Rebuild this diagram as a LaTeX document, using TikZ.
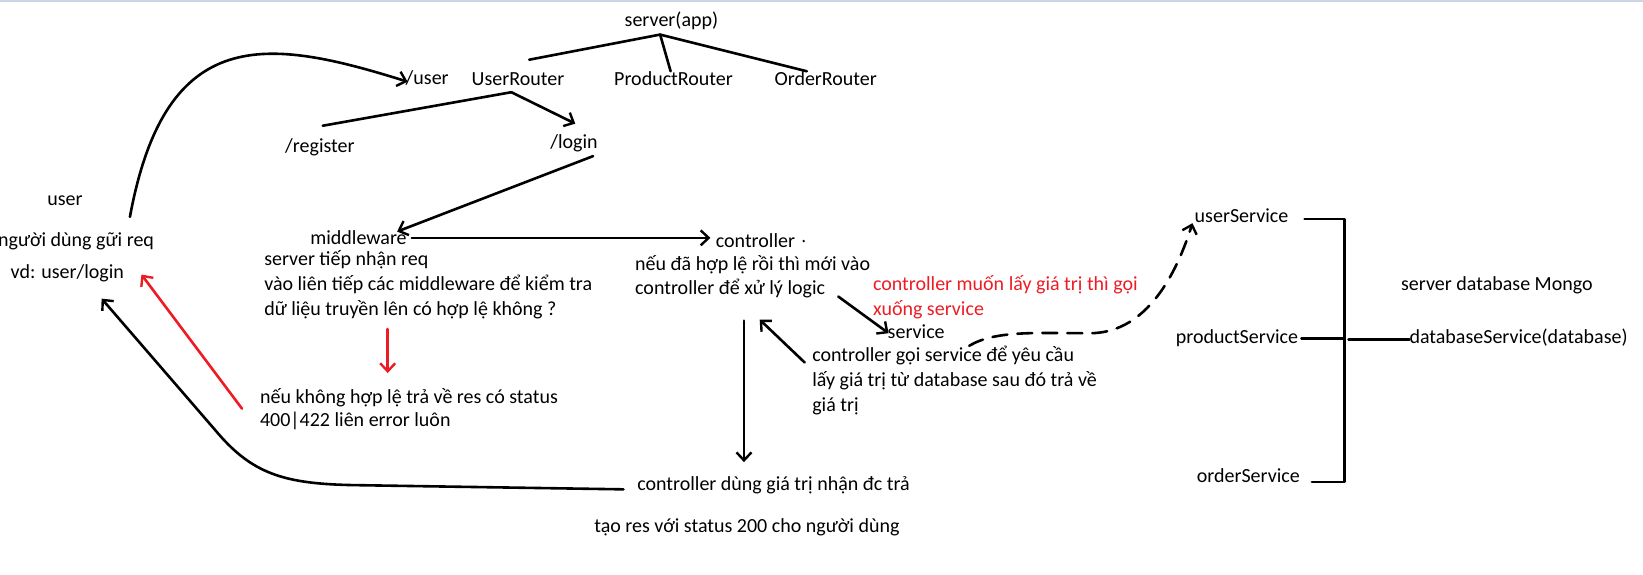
\documentclass[tikz,border=0pt]{standalone}
\usepackage{fontspec}
\setmainfont{Carlito}
\usetikzlibrary{arrows.meta}
\definecolor{pred}{RGB}{237,28,36}
\definecolor{topbar}{RGB}{204,214,229}
\begin{document}
\begin{tikzpicture}[x=1.04783pt,y=-1.04783pt,
  txt/.style={inner sep=0pt, anchor=base west, font=\fontsize{20}{24}\selectfont},
  rtxt/.style={txt, text=pred},
  ln/.style={line width=2.6pt, line cap=round, line join=round},
  barb/.style={-{Straight Barb[length=8pt,width=15pt,line width=2.4pt]}},
  arr/.style={ln, barb},
]
\useasboundingbox (0,0) rectangle (1568,547.8);
\fill[topbar] (0,0) rectangle (1568,2);

% ---- text nodes
\node[txt] (server) at (596,25) {server(app)};
\node[txt] (userR) at (450,82) {UserRouter};
\node[txt] (prodR) at (586,82) {ProductRouter};
\node[txt] (ordR) at (739,82) {OrderRouter};
\node[txt] (puser) at (387,81) {/user};
\node[txt] (reg) at (272,146) {/register};
\node[txt] (login) at (525,142) {/login};
\node[txt] (user) at (45,196) {user};
\node[txt] (sendreq) at (-2,235) {người dùng gữi req};
\node[txt] (vd) at (10,266) {vd: user/login};
\node[txt] (mw) at (296,233) {middleware};
\node[txt] (mw1) at (252,253) {server tiếp nhận req};
\node[txt] (mw2) at (252,277) {vào liên tiếp các middleware để kiểm tra};
\node[txt] (mw3) at (252,301) {dữ liệu truyền lên có hợp lệ không ?};
\node[txt] (err1) at (248,385) {nếu không hợp lệ trả về res có status};
\node[txt] (err2) at (248,407) {400|422 liên error luôn};
\node[txt] (ctrl) at (683,236) {controller};
\node[txt] (ctrl1) at (606,258) {nếu đã hợp lệ rồi thì mới vào};
\node[txt] (ctrl2) at (606,281) {controller để xử lý logic};
\node[rtxt] (red1) at (833,277) {controller muốn lấy giá trị thì gọi};
\node[rtxt] (red2) at (833,301) {xuống service};
\node[txt] (service) at (847,323) {service};
\node[txt] (cs1) at (775,345) {controller gọi service để yêu cầu};
\node[txt] (cs2) at (775,369) {lấy giá trị từ database sau đó trả về};
\node[txt] (cs3) at (775,393) {giá trị};
\node[txt] (ret1) at (608,468) {controller dùng giá trị nhận đc trả};
\node[txt] (ret2) at (567,508) {tạo res với status 200 cho người dùng};
\node[txt] (userS) at (1140,212) {userService};
\node[txt] (prodS) at (1122,328) {productService};
\node[txt] (ordS) at (1142,460) {orderService};
\node[txt] (mongo) at (1337,277) {server database Mongo};
\node[txt] (dbS) at (1345,328) {databaseService(database)};

% ---- coordinates
\coordinate (sapex) at (630,33);
\coordinate (sUR) at (505,57);
\coordinate (sPR) at (640,68);
\coordinate (sOR) at (770,68);
\coordinate (uapex) at (488,88);
\coordinate (uReg) at (308,120);
\coordinate (uLog) at (549,118);
\coordinate (reqStart) at (124,207);
\coordinate (reqEnd) at (389,78);
\coordinate (logStart) at (566,149);
\coordinate (mwTip) at (379,221);
\coordinate (mwR) at (393,227);
\coordinate (ctrlL) at (678,227);
\coordinate (cdot) at (767,230);
\coordinate (lgA) at (800,283);
\coordinate (svTip) at (848,318);
\coordinate (csA) at (768,346);
\coordinate (csTip) at (725,305);
\coordinate (vdA) at (710,306);
\coordinate (vdTip) at (710,441);
\coordinate (retA) at (595,467);
\coordinate (retTip) at (97,285);
\coordinate (redA) at (231,390);
\coordinate (redTip) at (135,262);
\coordinate (rdA) at (370,314);
\coordinate (rdTip) at (370,356);
\coordinate (dsA) at (925,330);
\coordinate (dsTip) at (1138,213);
\coordinate (bU) at (1245,209);
\coordinate (bP) at (1242,323);
\coordinate (bO) at (1252,460);
\coordinate (bDb) at (1345,324);

% ---- connectors
\draw[ln] (sapex) -- (sUR);
\draw[ln] (sapex) -- (sPR);
\draw[ln] (sapex) -- (sOR);
\draw[ln] (uapex) -- (uReg);
\draw[arr] (uapex) -- (uLog);
\draw[arr] (reqStart) .. controls (158,22) and (255,36) .. (reqEnd);
\draw[arr] (logStart) -- (mwTip);
\draw[arr] (mwR) -- (ctrlL);
\fill (cdot) circle (1.3pt);
\draw[arr] (lgA) -- (svTip);
\draw[arr] (csA) -- (csTip);
\draw[arr] (vdA) -- (vdTip);
\draw[arr] (retA) -- (340,463) .. controls (270,462) and (240,452) .. (205,410) -- (retTip);
\draw[arr, pred] (redA) -- (redTip);
\draw[arr, pred] (rdA) -- (rdTip);
\draw[arr, dash pattern=on 15pt off 10pt] (dsA) .. controls (950,315) and (990,318) .. (1040,318) .. controls (1090,318) and (1120,270) .. (dsTip);
\draw[ln] (bU) -- (1283,209) -- (1283,460) -- (bO);
\draw[ln] (bP) -- (1283,323);
\draw[ln] (1287,324) -- (bDb);
\end{tikzpicture}
\end{document}
